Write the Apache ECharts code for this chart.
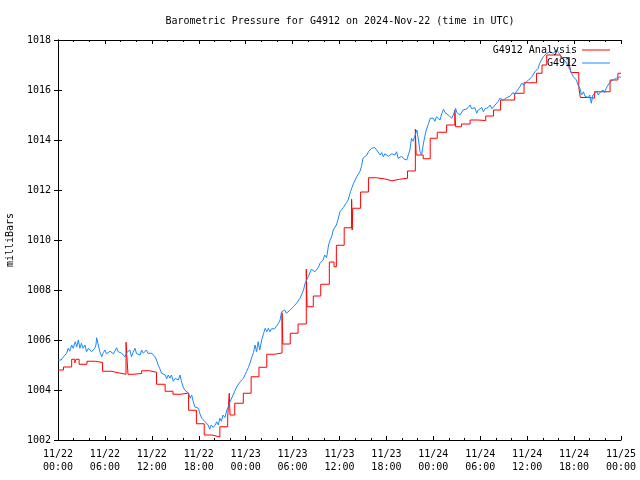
<!DOCTYPE html>
<html>
<head>
<meta charset="utf-8">
<script src="https://cdn.jsdelivr.net/npm/echarts@6/dist/echarts.min.js"></script>
<style>html,body{margin:0;padding:0;background:#fff}#c{width:640px;height:480px}</style>
</head>
<body>
<div id="c"></div>
<script>
// x = hours since 2024-11-22 00:00 UTC
var tickLabels = ['11/22\n00:00','11/22\n06:00','11/22\n12:00','11/22\n18:00','11/23\n00:00','11/23\n06:00','11/23\n12:00','11/23\n18:00','11/24\n00:00','11/24\n06:00','11/24\n12:00','11/24\n18:00','11/25\n00:00'];
var seriesNames = ['G4912 Analysis', 'G4912'];

var analysisHours = [0,0.7,1.75,2.15,2.3,2.7,3.7,4.8,5.7,6.8,7.7,8.7,8.95,9.6,10.7,11.7,12.6,13.7,14.7,15.7,16.7,17.7,18.7,19.7,20.7,21.7,21.9,22.0,22.6,23.7,24.7,25.7,26.7,27.7,28.65,28.75,29.7,30.7,31.75,31.85,32.65,33.6,34.7,35.3,35.6,36.6,37.55,37.62,37.7,38.7,39.7,40.7,41.7,42.7,43.7,44.7,45.7,45.8,46.7,47.6,48.5,49.7,50.75,50.85,51.6,52.7,53.7,54.7,55.7,56.6,58.4,59.6,61.2,61.9,62.5,64.3,65.4,65.6,66.6,66.8,67.8,68.6,70.6,71.6,72];
var analysisPressure = [1004.80,1004.92,1005.23,1005.09,1005.23,1005.03,1005.15,1005.10,1004.75,1004.69,1004.63,1005.91,1004.63,1004.66,1004.77,1004.71,1004.23,1003.95,1003.83,1003.88,1003.19,1002.65,1002.20,1002.12,1002.53,1002.92,1003.87,1003.00,1003.47,1003.87,1004.53,1004.91,1005.43,1005.48,1007.09,1005.84,1006.27,1006.64,1008.83,1007.33,1007.76,1008.23,1009.12,1008.93,1009.79,1010.49,1011.63,1010.40,1011.27,1011.92,1012.49,1012.45,1012.37,1012.43,1012.47,1012.76,1014.43,1013.40,1013.25,1014.07,1014.31,1014.60,1015.20,1014.53,1014.64,1014.80,1014.78,1014.96,1015.20,1015.60,1015.87,1016.29,1016.67,1017.00,1017.40,1017.30,1017.00,1016.70,1016.10,1015.70,1015.67,1015.93,1016.40,1016.67,1016.67];

var obsHours = [0,0.1,0.4,0.7,0.9,1.1,1.3,1.5,1.75,1.95,2.2,2.4,2.6,2.8,3.0,3.2,3.45,3.65,3.9,4.1,4.3,4.5,4.7,4.85,4.95,5.15,5.35,5.6,5.8,6.0,6.2,6.4,6.65,6.9,7.1,7.3,7.5,7.7,7.9,8.15,8.35,8.55,8.8,9.0,9.2,9.4,9.6,9.85,10.05,10.3,10.5,10.7,10.9,11.1,11.3,11.5,11.75,12.0,12.2,12.4,12.6,12.8,13.0,13.25,13.45,13.7,13.9,14.1,14.3,14.5,14.75,15.0,15.2,15.4,15.6,15.8,16.0,16.2,16.45,16.7,16.9,17.1,17.3,17.5,17.75,17.95,18.2,18.4,18.6,18.8,19.0,19.2,19.4,19.6,19.85,20.1,20.3,20.5,20.7,20.9,21.1,21.35,21.6,21.8,22.0,22.2,22.4,22.6,22.85,23.05,23.3,23.5,23.7,23.9,24.1,24.35,24.55,24.8,25.0,25.2,25.4,25.6,25.8,26.05,26.3,26.5,26.7,26.9,27.1,27.3,27.5,27.7,27.95,28.2,28.4,28.6,28.8,29.0,29.2,29.45,29.7,29.9,30.1,30.3,30.5,30.7,30.95,31.2,31.4,31.6,31.8,32.0,32.2,32.4,32.6,32.85,33.1,33.3,33.5,33.7,33.9,34.1,34.35,34.6,34.8,35.0,35.2,35.4,35.6,35.8,36.05,36.3,36.5,36.7,36.9,37.1,37.4,37.6,37.8,38.0,38.2,38.4,38.6,38.8,39.0,39.25,39.5,39.7,39.9,40.1,40.3,40.5,40.75,41.0,41.2,41.4,41.6,41.8,42.0,42.25,42.5,42.7,42.9,43.1,43.3,43.5,43.7,43.95,44.2,44.4,44.6,44.8,45.0,45.2,45.4,45.6,45.9,46.1,46.3,46.5,46.7,46.9,47.1,47.4,47.6,47.8,48.0,48.2,48.4,48.6,48.85,49.1,49.3,49.5,49.7,49.9,50.1,50.35,50.55,50.85,51.0,51.2,51.4,51.6,51.8,52.05,52.3,52.5,52.7,52.9,53.1,53.3,53.55,53.75,53.95,54.2,54.4,54.6,54.8,55.0,55.25,55.5,55.7,55.9,56.1,56.3,56.5,56.75,56.95,57.2,57.4,57.6,57.8,58.0,58.2,58.4,58.65,58.9,59.1,59.3,59.6,59.9,60.2,60.6,60.8,61.0,61.2,61.4,61.6,61.8,62.05,62.3,62.5,62.7,62.9,63.1,63.3,63.55,63.8,64.0,64.2,64.4,64.6,64.8,65.05,65.3,65.5,65.7,65.9,66.1,66.3,66.5,66.75,66.95,67.2,67.4,67.6,67.8,68.0,68.2,68.4,68.65,68.9,69.1,69.3,69.5,69.7,69.9,70.1,70.35,70.6,70.8,71.0,71.2,71.4,71.6,71.85,72.0];
var obsPressure = [1005.20,1005.27,1005.20,1005.33,1005.25,1005.47,1005.67,1005.55,1005.80,1005.67,1005.93,1005.73,1006.00,1005.67,1005.87,1005.67,1005.80,1005.53,1005.67,1005.60,1005.53,1005.60,1005.67,1005.80,1006.09,1005.80,1005.53,1005.33,1005.50,1005.60,1005.45,1005.47,1005.55,1005.60,1005.45,1005.47,1005.69,1005.53,1005.60,1005.47,1005.55,1005.33,1005.50,1005.47,1005.60,1005.33,1005.50,1005.67,1005.45,1005.53,1005.40,1005.60,1005.47,1005.53,1005.60,1005.47,1005.55,1005.47,1005.40,1005.33,1005.20,1005.00,1004.87,1004.67,1004.75,1004.60,1004.45,1004.60,1004.47,1004.60,1004.35,1004.47,1004.55,1004.40,1004.60,1004.33,1004.13,1004.00,1003.93,1003.87,1003.67,1003.80,1003.53,1003.33,1003.40,1003.27,1003.00,1002.87,1002.95,1002.73,1002.80,1002.60,1002.43,1002.60,1002.50,1002.60,1002.73,1002.60,1002.87,1002.75,1003.00,1002.90,1003.20,1003.33,1003.53,1003.60,1003.80,1003.95,1004.13,1004.20,1004.33,1004.40,1004.47,1004.60,1004.73,1004.90,1005.07,1005.33,1005.50,1005.80,1005.53,1005.93,1005.60,1006.00,1006.27,1006.47,1006.33,1006.47,1006.33,1006.45,1006.53,1006.45,1006.40,1006.67,1006.80,1007.13,1007.07,1007.20,1007.07,1007.15,1007.20,1007.25,1007.33,1007.40,1007.47,1007.55,1007.67,1007.85,1008.00,1008.27,1008.20,1008.53,1008.60,1008.83,1008.90,1008.73,1008.73,1008.90,1009.07,1009.10,1009.20,1009.40,1009.30,1009.80,1010.00,1010.13,1010.40,1010.45,1010.60,1010.80,1011.13,1011.20,1011.30,1011.40,1011.50,1011.60,1011.93,1012.10,1012.27,1012.40,1012.53,1012.60,1012.73,1012.93,1013.27,1013.30,1013.40,1013.53,1013.60,1013.67,1013.62,1013.70,1013.60,1013.53,1013.40,1013.50,1013.33,1013.45,1013.47,1013.35,1013.40,1013.45,1013.53,1013.40,1013.53,1013.27,1013.27,1013.35,1013.25,1013.30,1013.20,1013.40,1013.60,1014.07,1013.95,1014.13,1014.40,1014.00,1013.53,1013.40,1013.80,1014.13,1014.40,1014.67,1014.87,1014.80,1014.87,1014.75,1014.93,1014.85,1014.80,1015.07,1015.23,1015.10,1015.13,1015.00,1015.07,1014.87,1015.00,1015.27,1015.10,1015.13,1015.00,1015.07,1015.20,1015.13,1015.25,1015.33,1015.40,1015.25,1015.20,1015.30,1015.07,1015.20,1015.27,1015.30,1015.13,1015.25,1015.33,1015.30,1015.40,1015.25,1015.33,1015.40,1015.47,1015.55,1015.67,1015.60,1015.60,1015.53,1015.70,1015.67,1015.75,1015.73,1015.90,1015.80,1015.95,1016.05,1016.15,1016.27,1016.20,1016.33,1016.40,1016.53,1016.60,1016.73,1016.80,1016.87,1017.07,1017.15,1017.33,1017.40,1017.47,1017.50,1017.53,1017.45,1017.47,1017.55,1017.60,1017.50,1017.40,1017.35,1017.27,1017.20,1017.07,1016.90,1016.80,1016.65,1016.53,1016.50,1016.40,1016.20,1016.07,1015.80,1015.93,1015.75,1015.80,1015.70,1015.80,1015.47,1015.80,1015.85,1015.93,1015.80,1015.90,1015.95,1016.00,1015.90,1016.07,1016.20,1016.33,1016.25,1016.40,1016.35,1016.47,1016.40,1016.53,1016.50];

function pairs(xs, ys) { return xs.map(function (x, i) { return [x, ys[i]]; }); }

var FONT = 'DejaVu Sans Mono';
var chart = echarts.init(document.getElementById('c'), null, { renderer: 'canvas' });
var axisCommon = {
  axisLine: { lineStyle: { color: '#000', width: 1 } },
  splitLine: { show: false }
};
chart.setOption({
  animation: false,
  backgroundColor: '#fff',
  title: {
    text: 'Barometric Pressure for G4912 on 2024-Nov-22 (time in UTC)',
    left: 335, top: 11, textAlign: 'center',
    textStyle: { fontFamily: FONT, fontSize: 10, fontWeight: 'normal', color: '#000' }
  },
  legend: [
    { data: [seriesNames[0]], right: 30, top: 45, padding: 0, align: 'right', icon: 'rect', itemWidth: 28, itemHeight: 1, itemGap: 0,
      textStyle: { fontFamily: FONT, fontSize: 10, color: '#000' } },
    { data: [seriesNames[1]], right: 30, top: 58, padding: 0, align: 'right', icon: 'rect', itemWidth: 28, itemHeight: 1, itemGap: 0,
      textStyle: { fontFamily: FONT, fontSize: 10, color: '#000' } }
  ],
  grid: { left: 58, right: 19, top: 40, bottom: 40, containLabel: false, outerBoundsMode: 'none' },
  xAxis: [
    Object.assign({
      type: 'value', min: 0, max: 72, interval: 6, position: 'bottom',
      axisTick: { inside: true, length: 4, lineStyle: { color: '#000' } },
      minorTick: { show: true, splitNumber: 3, length: 2, lineStyle: { color: '#000' } },
      axisLabel: { margin: 8, fontFamily: FONT, fontSize: 10, color: '#000', lineHeight: 13,
        formatter: function (v) { return tickLabels[Math.round(v / 6)]; } }
    }, axisCommon),
    Object.assign({
      type: 'value', min: 0, max: 72, interval: 6, position: 'top',
      axisTick: { inside: true, length: 4, lineStyle: { color: '#000' } },
      minorTick: { show: true, splitNumber: 3, length: 2, lineStyle: { color: '#000' } },
      axisLabel: { show: false }
    }, axisCommon)
  ],
  yAxis: [
    Object.assign({
      type: 'value', min: 1002, max: 1018, interval: 2, position: 'left',
      name: 'milliBars', nameLocation: 'middle', nameRotate: 90, nameGap: 43,
      nameTextStyle: { fontFamily: FONT, fontSize: 10, color: '#000' },
      axisTick: { inside: true, length: 4, lineStyle: { color: '#000' } },
      axisLabel: { margin: 7, fontFamily: FONT, fontSize: 10, color: '#000',
        formatter: function (v) { return String(v); } }
    }, axisCommon),
    Object.assign({
      type: 'value', min: 1002, max: 1018, interval: 2, position: 'right',
      axisTick: { inside: true, length: 4, lineStyle: { color: '#000' } },
      axisLabel: { show: false }
    }, axisCommon)
  ],
  series: [
    { name: seriesNames[0], type: 'line', step: 'end', data: pairs(analysisHours, analysisPressure),
      showSymbol: false, symbol: 'none', color: '#ff0000', lineStyle: { width: 1, color: '#ff0000' },
      xAxisIndex: 0, yAxisIndex: 0, z: 2 },
    { name: seriesNames[1], type: 'line', data: pairs(obsHours, obsPressure),
      showSymbol: false, symbol: 'none', color: '#1a88ff', lineStyle: { width: 1, color: '#1a88ff' },
      xAxisIndex: 0, yAxisIndex: 0, z: 3 }
  ]
});
</script>
</body>
</html>
